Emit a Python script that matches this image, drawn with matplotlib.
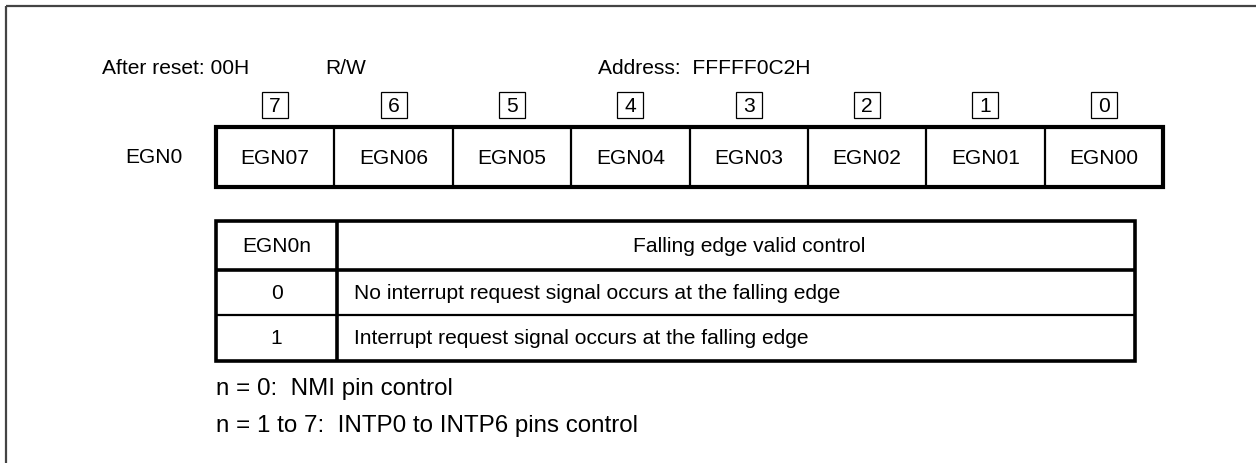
import matplotlib
matplotlib.use("Agg")
import matplotlib.pyplot as plt
from matplotlib.patches import Rectangle

plt.rcParams['font.family'] = ['Liberation Sans', 'DejaVu Sans']

# ---- data ----
register_name = "EGN0"
after_reset = "After reset: 00H"
access = "R/W"
address = "Address:  FFFFF0C2H"
bit_numbers = ["7", "6", "5", "4", "3", "2", "1", "0"]
bit_names = ["EGN07", "EGN06", "EGN05", "EGN04", "EGN03", "EGN02", "EGN01", "EGN00"]
table_header = ["EGN0n", "Falling edge valid control"]
table_values = ["0", "1"]
table_desc = ["No interrupt request signal occurs at the falling edge",
              "Interrupt request signal occurs at the falling edge"]
notes = ["n = 0:  NMI pin control",
         "n = 1 to 7:  INTP0 to INTP6 pins control"]

W, H = 1256, 464
fig = plt.figure(figsize=(W / 100, H / 100), dpi=100)
ax = fig.add_axes([0, 0, 1, 1])
ax.set_xlim(0, W)
ax.set_ylim(H, 0)
ax.axis('off')

FS = 15.1
FS_NOTE = 17.4

# outer frame (only left and top visible)
ax.plot([6, 6], [H + 5, 7], color='#444444', lw=1.6, solid_capstyle='butt')
ax.plot([6, W + 5], [7, 7], color='#444444', lw=1.6, solid_capstyle='butt')

# header texts
ax.text(102, 68, after_reset, fontsize=FS, va='center', ha='left')
ax.text(325, 68, access, fontsize=FS, va='center', ha='left')
ax.text(598, 68, address, fontsize=FS, va='center', ha='left')

# register
rx0, rx1 = 216, 1163
ry0, ry1 = 128, 188
cw = (rx1 - rx0) / len(bit_names)
ax.text(125, (ry0 + ry1) / 2, register_name, fontsize=FS, va='center', ha='left')
for i, (num, name) in enumerate(zip(bit_numbers, bit_names)):
    cx = rx0 + cw * (i + 0.5)
    ax.text(cx, (ry0 + ry1) / 2 + 1, name, fontsize=FS, va='center', ha='center')
    # bit number box
    ax.add_patch(Rectangle((cx - 13, 93), 26, 26, fill=False, lw=0.9, ec='black'))
    ax.text(cx, 107, num, fontsize=FS, va='center', ha='center')
    if i > 0:
        x = rx0 + cw * i
        ax.plot([x, x], [ry0, ry1], color='black', lw=1.6, solid_capstyle='butt')
ax.add_patch(Rectangle((rx0, ry0), rx1 - rx0, ry1 - ry0, fill=False, lw=3.0, ec='black'))

# table
tx0, tx1, tdiv = 216, 1135, 337
rows_y = [222, 271, 316, 362]
ax.add_patch(Rectangle((tx0, rows_y[0]), tx1 - tx0, rows_y[-1] - rows_y[0], fill=False, lw=2.6, ec='black'))
ax.plot([tdiv, tdiv], [rows_y[0], rows_y[-1]], color='black', lw=2.6, solid_capstyle='butt')
ax.plot([tx0, tx1], [rows_y[1], rows_y[1]], color='black', lw=2.6, solid_capstyle='butt')
ax.plot([tx0, tx1], [rows_y[2], rows_y[2]], color='black', lw=1.6, solid_capstyle='butt')
ax.text((tx0 + tdiv) / 2, (rows_y[0] + rows_y[1]) / 2, table_header[0], fontsize=FS, va='center', ha='center')
ax.text(749, (rows_y[0] + rows_y[1]) / 2, table_header[1], fontsize=FS, va='center', ha='center')
for j, (v, d) in enumerate(zip(table_values, table_desc)):
    yc = (rows_y[j + 1] + rows_y[j + 2]) / 2
    ax.text((tx0 + tdiv) / 2, yc, v, fontsize=FS, va='center', ha='center')
    ax.text(354, yc, d, fontsize=FS, va='center', ha='left')

# notes
ax.text(216, 389, notes[0], fontsize=FS_NOTE, va='center', ha='left')
ax.text(216, 426, notes[1], fontsize=FS_NOTE, va='center', ha='left')

fig.savefig("out.png", dpi=100)
